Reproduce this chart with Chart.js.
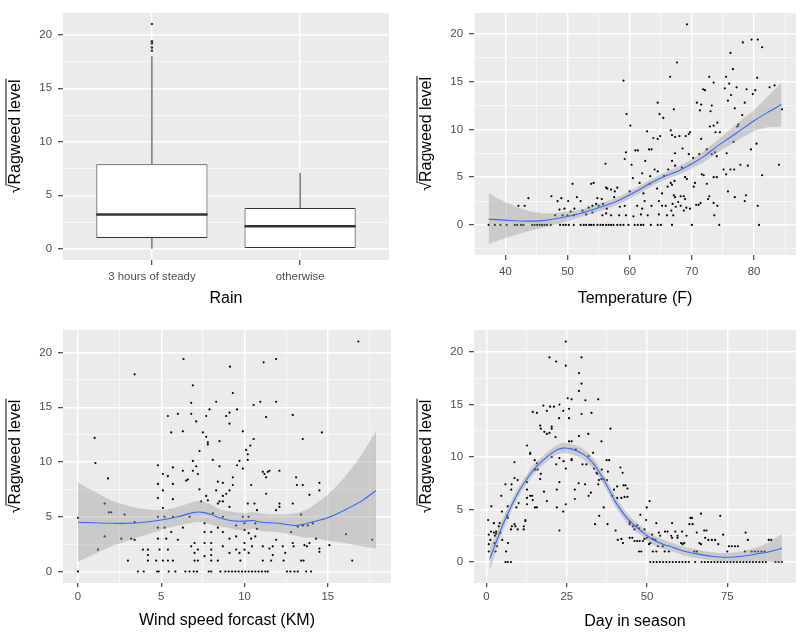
<!DOCTYPE html>
<html>
<head>
<meta charset="utf-8">
<script src="https://cdn.jsdelivr.net/npm/chart.js@4.4.1/dist/chart.umd.min.js"></script>
<style>
  body { margin: 0; background: #fff; }
  #wrap { position: relative; width: 800px; height: 634px; }
  canvas { position: absolute; }
</style>
</head>
<body>
<div id="wrap">
  <canvas id="rain" width="400" height="317" style="left:0;top:0;width:400px;height:317px"></canvas>
  <canvas id="temp" width="400" height="317" style="left:400px;top:0;width:400px;height:317px"></canvas>
  <canvas id="wind" width="400" height="317" style="left:0;top:317px;width:400px;height:317px"></canvas>
  <canvas id="day" width="400" height="317" style="left:400px;top:317px;width:400px;height:317px"></canvas>
</div>
<script>
"use strict";

// ---- panel 1: rain box plot (summary stats)
let rainGroups = ['3 hours of steady', 'otherwise'];
let boxLow = [0, 0];
let boxQ1 = [1.0, 0];
let boxMedian = [3.2, 2.1];
let boxQ3 = [7.9, 3.8];
let boxHigh = [18.0, 7.1];
let rainOutliers = [18.5, 18.8, 19.2, 19.4, 21.0];

// ---- tick values (major + minor gridlines)
let yTicks = [-2.5, 0, 2.5, 5, 7.5, 10, 12.5, 15, 17.5, 20];
let tempTicks = [35, 40, 45, 50, 55, 60, 65, 70, 75, 80, 85];
let windTicks = [0, 2.5, 5, 7.5, 10, 12.5, 15, 17.5];
let dayTicks = [0, 12.5, 25, 37.5, 50, 62.5, 75, 87.5];

// ---- panel 2: temperature
let tempPoints = [
  [69.2,21.0],[78.2,19.1],[79.6,19.4],[80.6,19.4],[81.3,18.6],[76.2,18.0],[67.6,17.0],[76.6,16.3],
  [59.0,15.1],[66.5,15.5],[72.8,15.5],[75.5,15.5],[80.5,15.4],
  [75.3,14.3],[71.8,14.2],[72.1,14.1],[77.2,14.4],[78.8,14.2],[80.2,14.1],[82.5,14.4],[83.3,14.6],[73.5,14.9],[76.0,14.8],
  [76.3,13.6],[79.8,13.7],[75.8,13.0],[73.2,12.5],[71.5,12.6],[70.8,12.8],[64.5,12.8],[67.1,12.1],[76.9,12.2],[78.5,12.8],[71.3,12.0],[73.0,11.9],
  [64.8,11.6],[59.5,11.6],[65.4,11.2],[78.1,11.5],[84.5,12.1],[74.1,10.7],[73.5,10.4],[72.9,10.3],[60.1,10.4],[77.5,10.5],[77.3,10.3],
  [66.6,9.9],[69.7,9.7],[69.5,9.5],[62.8,9.8],[66.8,9.4],[69.0,9.3],[67.3,9.2],[68.0,9.3],[64.9,9.3],[63.8,9.1],[64.5,9.0],[71.5,9.0],[73.8,9.7],[74.5,9.7],[80.4,8.5],[79.5,7.9],[72.4,7.9],[76.7,8.7],
  [60.9,7.8],[61.3,7.8],[63.1,7.9],[63.5,7.9],[62.5,6.7],[67.3,7.5],[68.5,8.0],[69.5,7.4],[59.4,7.6],[59.2,6.9],[71.2,7.4],[70.2,7.0],[73.2,7.4],[73.7,7.6],[74.0,7.2],[67.3,6.2],[66.8,6.7],[75.6,7.5],[77.8,6.3],
  [56.1,6.4],[60.3,6.3],[68.4,6.0],[66.2,5.8],[65.5,5.1],[64.5,5.6],[71.6,5.3],[71.9,5.2],[74.0,5.0],[73.5,5.0],[76.2,5.8],[76.8,5.8],[75.1,5.8],[75.5,5.3],[84.0,6.3],[79.0,6.2],[81.3,5.2],[64.0,5.8],[62.0,5.4],[60.5,4.9],[63.3,5.1],
  [68.9,5.0],[69.2,4.8],[67.2,4.6],[66.8,4.2],[66.1,4.0],[66.6,4.4],[63.2,4.3],[64.4,3.8],[70.3,4.0],[70.5,4.4],[72.4,4.3],[61.6,4.4],[53.8,4.3],[54.2,4.4],[50.8,4.3],
  [56.4,3.8],[57.0,3.7],[57.6,3.5],[56.2,3.9],[58.0,3.9],[62.2,3.3],[65.2,3.3],[67.1,3.1],[67.3,2.9],[68.2,3.0],[68.7,3.0],[68.9,2.7],[72.8,3.0],[72.6,2.7],[73.5,2.3],[71.4,2.3],[70.7,2.1],[76.9,2.9],[78.5,2.5],[78.7,3.1],[80.6,2.0],[75.8,3.5],
  [43.7,2.8],[47.4,3.0],[48.4,2.5],[49.0,2.8],[50.1,2.5],[51.5,2.9],[52.1,2.5],[54.8,2.8],[55.5,2.7],[57.5,2.9],[60.0,3.5],[61.2,2.0],[62.4,2.5],[63.5,2.0],[64.7,2.5],[65.8,2.0],[66.9,2.2],[67.8,2.4],[68.2,2.0],[69.7,1.7],[71.1,2.1],
  [42.1,2.0],[43.1,2.0],[48.7,1.6],[49.5,1.7],[50.5,1.4],[51.1,1.7],[52.4,1.5],[53.4,1.8],[54.0,2.0],[54.6,2.2],[55.0,2.0],[55.7,2.2],[56.3,1.7],[58.4,1.9],[59.2,2.0],[62.0,1.7],[64.7,1.1],[65.2,2.0],[66.7,1.5],[67.4,1.9],[68.7,1.5],[69.1,1.8],[73.6,1.0],[74.1,2.0],
  [48.0,1.0],[49.2,1.0],[50.0,1.0],[51.0,1.0],[53.0,1.1],[54.0,1.3],[55.6,1.0],[56.2,1.2],[57.0,1.0],[58.3,1.0],[59.4,1.0],[60.6,0.9],[61.8,1.1],[62.9,1.0],[66.0,1.0],[67.0,1.0]
];
let tempZeroX = [37.3,38.3,39.2,40.2,41.5,41.9,42.5,42.9,44.3,44.7,45.1,45.5,45.9,46.3,46.7,47.3,48.8,49.3,49.7,50.2,51.0,52.1,52.6,53.0,53.5,53.8,54.2,54.8,55.3,55.7,56.2,56.6,57.0,57.4,58.0,58.5,59.0,59.8,60.8,61.3,61.8,62.2,63.4,64.5,65.0,66.8,70.0,74.4,80.8];
let tempFitX = [37.3, 40, 43, 46, 49, 52, 55, 58, 61, 64, 66, 68, 70, 72, 74, 76, 78, 80, 82, 84.4];
let tempFit = [0.6, 0.5, 0.4, 0.45, 0.75, 1.2, 1.8, 2.5, 3.5, 4.6, 5.2, 5.7, 6.4, 7.2, 8.2, 9.1, 10.0, 10.9, 11.7, 12.6];
let tempUpper = [3.3, 2.4, 1.6, 1.2, 1.3, 1.6, 2.2, 2.9, 3.9, 5.0, 5.6, 6.2, 6.9, 7.8, 8.8, 9.9, 11.0, 12.0, 13.3, 14.9];
let tempLower = [-2.0, -1.4, -0.8, -0.3, 0.2, 0.8, 1.4, 2.1, 3.1, 4.2, 4.8, 5.3, 5.9, 6.6, 7.5, 8.3, 9.1, 9.8, 10.2, 10.3];

// ---- panel 3: wind speed
let windPoints = [
  [16.84,21.0],[6.34,19.4],[9.13,18.7],[11.15,19.1],[11.9,19.4],[3.4,18.0],
  [0,4.9],[1.0,12.2],[1.05,9.9],[1.2,2.0],[1.6,3.2],[1.6,6.2],[1.8,8.5],[1.85,5.4],[2.0,5.4],
  [2.6,3.0],[2.8,5.2],[3.0,1.0],[3.2,3.0],[3.4,2.9],[3.4,4.5],
  [3.9,2.0],[4.2,2.0],[4.2,1.5],[4.2,1.0],[4.7,1.0],
  [4.8,9.7],[4.8,8.0],[4.8,6.7],[4.8,5.0],[4.8,4.0],[4.8,3.0],[4.9,2.0],
  [5.1,8.9],[5.1,7.4],[5.1,5.8],[5.1,1.0],[5.2,5.0],[5.2,4.0],[5.3,3.0],
  [5.4,14.2],[5.4,8.7],[5.4,2.0],[5.4,1.0],[5.6,12.7],[5.6,3.6],
  [5.7,9.5],[5.7,8.0],[5.7,6.6],[5.7,5.0],[5.7,1.0],
  [6.0,14.4],[6.0,2.9],[6.3,12.8],[6.3,9.2],[6.3,4.0],[6.5,8.3],
  [6.6,8.4],[6.7,5.0],[6.8,15.4],[6.8,14.4],[6.8,2.3],[6.9,17.0],[6.9,10.1],[6.9,9.2],[7.0,2.6],[7.0,1.7],[7.0,1.0],
  [7.1,13.7],[7.1,9.6],[7.2,8.9],[7.2,2.0],[7.2,1.0],
  [7.3,11.0],[7.3,7.5],[7.4,6.4],[7.5,12.7],[7.6,4.4],[7.6,3.6],[7.6,2.6],[7.6,1.4],
  [7.7,14.2],[7.7,12.3],[7.8,11.8],[7.8,11.6],[7.9,14.8],[7.7,6.9],[7.8,6.5],
  [8.0,3.6],[8.0,2.6],[8.0,2.0],[8.0,1.5],[8.0,1.0],[8.1,10.2],[8.1,5.3],
  [8.3,15.5],[8.3,7.4],[8.4,8.2],[8.4,6.2],[8.4,4.0],[8.4,1.0],[8.5,11.9],[8.5,9.6],[8.5,6.4],
  [8.7,8.1],[8.7,6.9],[8.7,6.4],[8.7,5.0],[8.7,3.6],[8.7,2.3],[8.9,14.2],[8.9,7.1],
  [9.1,14.5],[9.1,13.5],[9.1,7.4],[9.1,5.9],[9.1,3.0],[9.1,1.7],
  [9.3,16.3],[9.3,8.6],[9.3,7.9],[9.5,4.2],[9.5,3.2],[9.5,2.0],
  [9.55,14.8],[9.55,9.7],[9.7,10.1],[9.7,1.7],[9.75,1.0],
  [9.9,12.8],[9.9,9.4],[9.9,5.0],[10.0,4.4],[10.0,3.8],[10.0,2.6],[10.0,2.0],
  [10.1,11.1],[10.2,10.7],[10.2,10.2],[10.2,6.2],[10.25,5.0],[10.25,3.5],[10.25,1.7],
  [10.35,11.5],[10.4,7.9],[10.4,3.0],[10.45,2.3],
  [10.55,15.2],[10.55,12.1],[10.6,6.2],[10.65,4.4],[10.65,3.2],[10.75,5.6],[10.75,3.9],
  [10.95,15.5],[11.1,2.3],[11.1,1.0],
  [11.1,9.1],[11.2,8.9],[11.3,8.6],[11.3,7.1],[11.3,14.1],[11.4,9.1],[11.5,2.1],[11.5,9.2],[11.6,1.0],[11.7,2.3],[11.7,1.5],
  [11.9,15.5],[11.9,5.6],[11.9,2.9],[12.1,9.2],[12.1,6.2],[12.1,5.9],
  [12.3,2.3],[12.35,1.0],[12.45,1.7],[12.8,3.6],[12.9,14.3],[12.9,6.2],[12.9,2.6],[12.95,2.3],
  [13.1,8.6],[13.15,7.9],[13.2,4.1],[13.4,1.0],[13.4,5.2],[13.5,12.1],[13.5,7.9],[13.5,4.2],[13.55,1.0],[13.6,2.4],[13.75,2.3],
  [13.8,4.2],[13.9,7.0],[13.9,2.6],[14.1,4.4],[14.3,3.0],[14.5,8.1],[14.5,7.4],[14.5,2.1],[14.5,1.8],[14.65,12.7],[15.1,2.4],[16.1,3.4],[16.47,1.0],[17.67,2.9]
];
let windZeroX = [0,3.6,3.95,4.75,4.85,5.45,5.85,6.45,6.7,6.95,7.15,7.85,8.0,8.55,8.85,9.05,9.25,9.45,9.65,9.85,10.05,10.25,10.45,10.65,10.85,11.05,11.25,11.4,12.55,12.75,13.0,13.2,13.7,14.0];
let windFitX = [0, 1, 2, 3, 4, 5, 6, 7, 7.5, 8, 8.5, 9, 9.5, 10, 10.5, 11, 12, 13, 13.5, 14, 15, 16, 17, 17.9];
let windFit = [4.5, 4.45, 4.4, 4.4, 4.5, 4.7, 5.0, 5.4, 5.4, 5.2, 4.9, 4.7, 4.6, 4.6, 4.65, 4.5, 4.4, 4.2, 4.3, 4.5, 4.9, 5.6, 6.4, 7.4];
let windUpper = [8.1, 7.3, 6.5, 6.0, 5.7, 5.6, 5.9, 6.4, 6.4, 6.1, 5.7, 5.5, 5.4, 5.3, 5.4, 5.3, 5.2, 5.3, 5.5, 5.9, 7.0, 8.6, 10.6, 12.8];
let windLower = [0.9, 1.6, 2.3, 2.8, 3.3, 3.8, 4.2, 4.5, 4.5, 4.3, 4.1, 4.0, 3.8, 3.8, 3.9, 3.7, 3.6, 3.3, 3.1, 3.1, 2.8, 2.6, 2.3, 2.1];

// ---- panel 4: day in season
let dayPoints = [
  [24.7,21.0],[19.6,19.5],[21.7,19.1],[29.6,19.5],[24.7,18.7],[28.8,18.0],[29.6,17.0],[28.8,16.3],
  [22.7,15.0],[25.3,15.6],[26.5,15.5],[30.8,15.4],[34.8,15.5],
  [14.4,14.3],[15.7,14.2],[17.7,14.9],[18.8,14.4],[19.8,14.8],[21.0,14.8],[23.9,14.4],[25.7,14.6],[29.6,14.1],[32.7,14.2],
  [25.7,13.7],[22.6,13.7],[16.7,13.0],[16.9,12.7],[20.3,12.9],[20.3,12.7],[19.6,12.3],[18.0,12.4],[18.8,12.2],[21.5,11.9],[28.8,12.0],[31.7,12.2],[38.6,12.7],
  [25.7,11.5],[26.5,11.5],[35.8,11.5],[12.6,11.1],
  [26.5,9.8],[26.5,9.7],[27.8,10.7],[22.7,9.9],[20.3,10.0],[21.7,9.3],[24.0,9.6],[24.7,8.9],[29.9,9.3],[31.1,9.3],[31.8,10.1],[33.2,10.4],
  [13.6,10.4],[13.6,10.3],[8.7,9.5],[15.0,9.7],[15.1,8.8],[15.7,9.4],[15.9,8.8],[16.9,8.4],[16.7,7.9],[8.7,8.0],[9.7,7.8],[7.8,7.4],[7.7,6.9],[5.9,7.4],[4.6,6.3],
  [37.4,9.7],[38.2,9.7],[35.9,8.8],[33.5,8.9],[34.3,8.5],[34.5,8.4],[35.0,7.8],[35.8,7.9],[36.5,7.9],[37.5,7.8],[37.8,8.6],[41.7,9.0],[42.4,8.5],[42.7,7.3],[43.3,7.3],[43.9,7.0],[40.7,7.2],[39.7,6.9],[39.2,6.3],[40.7,6.1],[42.0,6.1],[43.0,6.2],[43.9,6.2],
  [17.9,6.7],[13.6,6.3],[12.6,6.1],[12.6,7.6],[14.2,6.3],[21.9,6.9],[22.7,7.6],[28.7,7.5],[30.7,7.4],[34.8,7.4],[27.5,6.9],[27.5,6.0],[31.8,6.3],[32.5,6.6],
  [18.8,5.8],[21.9,5.2],[23.9,4.8],[24.7,5.5],[15.1,5.2],[14.4,5.9],[12.6,5.5],[15.7,5.2],[12.6,6.9],[10.0,5.6],[9.3,5.2],[6.6,5.3],[4.8,4.8],
  [6.4,4.4],[6.6,4.2],[12.1,4.0],[12.1,3.9],[8.7,3.6],[9.0,3.4],[11.6,3.4],[11.6,3.1],[9.7,3.1],[7.9,3.4],[7.6,3.1],[35.1,4.4],[33.8,3.6],[36.5,5.2],[22.7,3.0],[37.7,3.6],
  [4.1,3.7],[3.8,3.4],[2.3,3.7],[1.5,5.3],[0.5,4.0],[3.0,2.9],[3.0,2.7],[2.3,2.8],[2.6,2.5],[0.7,2.6],[1.4,2.9],[1.2,2.1],[2.5,1.8],[0.7,1.7],[3.3,1.5],[0.7,1.0],[2.8,1.0],[6.7,1.8],[6.1,1.0],[4.9,2.1],[4.3,2.8],
  [40.2,3.0],[40.9,2.1],[42.0,2.2],[42.5,1.8],[44.6,3.8],[44.6,3.6],[45.6,3.4],[46.1,3.1],[46.9,3.5],[47.5,3.2],[47.9,4.5],[49.2,3.1],[49.7,4.0],[49.9,5.2],[50.8,5.8],
  [44.6,2.3],[45.4,2.3],[46.1,2.0],[46.9,2.0],[47.5,1.0],[48.2,1.0],[47.7,2.0],[48.7,2.0],[49.2,2.2],[49.9,2.3],[50.6,1.7],[51.0,1.8],
  [51.6,2.6],[51.8,2.2],[52.6,2.1],[51.8,1.0],[52.9,1.0],[53.4,1.5],[52.9,3.7],[53.7,2.8],[54.1,2.5],[54.9,1.5],[55.5,1.0],[56.8,1.0],
  [55.6,2.9],[56.4,2.9],[57.8,3.7],[57.5,2.5],[57.8,2.3],[58.8,2.9],[59.5,2.5],[59.5,2.3],[60.9,2.9],[60.6,1.8],[61.1,1.7],[61.6,1.8],[62.3,2.5],[63.2,3.6],[63.5,4.2],[64.0,4.2],[64.2,3.6],[64.7,1.0],[65.5,1.0],[65.5,2.8],[66.8,4.6],[66.3,1.8],[66.8,1.7],
  [67.8,3.0],[68.5,3.0],[68.1,2.3],[69.1,2.1],[70.2,2.1],[71.2,2.1],[72.2,1.7],[72.8,4.4],[73.7,2.6],[75.0,1.0],[75.5,1.5],[76.4,1.5],[77.4,1.5],[78.3,1.5],[80.7,2.8],[81.4,2.1],[80.5,1.0],[82.6,1.0],[83.6,1.0],[84.6,1.0],[85.6,1.0],[86.6,1.0],[87.9,2.1],[88.7,2.1]
];
let dayZeroX = [5.9,6.6,7.6,51,52,53,54,55,56,57,58,59,60,61,62,63,65,67,68,69,70,71,72,73,74,75,76,77,78,79,80,81,82,83,84,85,86,87,90,91,92];
let dayFitX = [1, 3, 5, 8, 10, 13, 15, 18, 20, 22, 24, 26, 28, 30, 32, 34, 36, 38, 40, 42, 44, 46, 48, 50, 52, 55, 58, 62, 66, 70, 74, 78, 82, 86, 89, 92];
let dayFit = [0.3, 1.9, 3.5, 5.5, 6.7, 8.1, 8.9, 9.8, 10.3, 10.7, 10.85, 10.8, 10.6, 10.3, 9.8, 9.1, 8.1, 7.0, 5.8, 4.9, 4.1, 3.5, 3.0, 2.5, 2.1, 1.7, 1.4, 1.0, 0.75, 0.55, 0.45, 0.5, 0.65, 0.85, 1.05, 1.3];
let dayUpper = [1.4, 2.7, 4.1, 6.0, 7.15, 8.55, 9.35, 10.25, 10.75, 11.15, 11.35, 11.3, 11.1, 10.8, 10.3, 9.6, 8.6, 7.5, 6.3, 5.4, 4.55, 3.95, 3.45, 2.95, 2.55, 2.15, 1.8, 1.4, 1.15, 0.95, 0.85, 0.95, 1.2, 1.6, 2.1, 2.7];
let dayLower = [-0.8, 1.1, 2.9, 5.0, 6.25, 7.65, 8.45, 9.35, 9.85, 10.25, 10.35, 10.3, 10.1, 9.8, 9.3, 8.6, 7.6, 6.5, 5.3, 4.4, 3.65, 3.05, 2.55, 2.05, 1.65, 1.25, 1.0, 0.6, 0.35, 0.15, 0.05, 0.05, 0.1, 0.1, 0.0, -0.1];

// ---- styling
let panelBg = '#EBEBEB';
let inkColor = '#333333';
let fitColor = '#3366FF';
let bandColor = 'rgba(153,153,153,0.4)';
let boxWidth = 0.75;

Chart.defaults.font.family = '"Liberation Sans", Arial, sans-serif';
Chart.defaults.animation = false;
Chart.defaults.plugins.legend.display = false;
Chart.defaults.plugins.tooltip.enabled = false;

function isMajor(v, step) {
  let r = v / step;
  return Math.abs(r - Math.round(r)) < 1e-6;
}

function asXY(list) {
  return list.map(p => ({ x: p[0], y: p[1] }));
}

function zip(xs, ys) {
  return xs.map((x, i) => ({ x: x, y: ys[i] }));
}

// gray panel + axis titles (incl. the square root on the y title)
let panelDeco = {
  id: 'panelDeco',
  beforeDraw(chart) {
    let a = chart.chartArea;
    let c = chart.ctx;
    c.save();
    c.fillStyle = panelBg;
    c.fillRect(a.left, a.top, a.right - a.left, a.bottom - a.top);
    c.restore();
  },
  afterDraw(chart, args, opts) {
    let a = chart.chartArea;
    let c = chart.ctx;
    c.save();
    c.fillStyle = '#000';
    c.font = '16px "Liberation Sans", Arial, sans-serif';
    c.textAlign = 'center';
    c.textBaseline = 'alphabetic';
    c.fillText(opts.xTitle, (a.left + a.right) / 2, opts.xTitleY);

    c.translate(opts.yTitleX, (a.top + a.bottom) / 2);
    c.rotate(-Math.PI / 2);
    let rad = '\u221A';
    let txt = 'Ragweed level';
    let wr = c.measureText(rad).width;
    let wt = c.measureText(txt).width;
    let x0 = -(wr + wt) / 2;
    c.textAlign = 'left';
    c.fillText(rad, x0, 0);
    c.fillText(txt, x0 + wr, 0);
    c.strokeStyle = '#000';
    c.lineWidth = 1;
    c.beginPath();
    c.moveTo(x0 + wr - 1, -13.5);
    c.lineTo(x0 + wr + wt + 1, -13.5);
    c.stroke();
    c.restore();
  }
};

function makeAxis(ticks, step, min, max, tickLen, pad, fit, labelFn) {
  return {
    type: 'linear',
    min: min,
    max: max,
    offset: false,
    afterBuildTicks: axis => {
      axis.ticks = ticks.filter(v => v >= min && v <= max).map(v => ({ value: v }));
    },
    afterFit: fit,
    ticks: {
      autoSkip: false,
      maxRotation: 0,
      padding: pad,
      color: '#4D4D4D',
      font: { size: 11.4 },
      callback: labelFn || (v => isMajor(v, step) ? v : '')
    },
    grid: {
      offset: false,
      color: '#FFFFFF',
      lineWidth: ctx => (ctx.tick && isMajor(ctx.tick.value, step)) ? 1.4 : 0.6,
      drawTicks: true,
      tickLength: tickLen,
      tickWidth: 1.1,
      tickColor: ctx => (ctx.tick && isMajor(ctx.tick.value, step)) ? inkColor : 'rgba(0,0,0,0)'
    },
    border: { display: false }
  };
}

function frame(box) {
  return {
    padding: { top: box.top, right: 400 - box.right, left: 0, bottom: 0 },
    yFit: s => { s.width = box.left; },
    xFit: s => { s.height = 317 - box.bottom; }
  };
}

// ---- panel 1
function drawRain() {
  let f = frame({ left: 63, right: 389, top: 3, bottom: 260 });
  let datasets = [];

  rainGroups.forEach((g, i) => {
    datasets.push({
      type: 'line',
      data: [{ x: i + 1 - boxWidth / 2, y: boxMedian[i] }, { x: i + 1 + boxWidth / 2, y: boxMedian[i] }],
      borderColor: inkColor,
      borderWidth: 2.4,
      pointRadius: 0
    });
  });

  datasets.push({
    type: 'bar',
    data: rainGroups.map((g, i) => ({ x: i + 1, y: [boxQ1[i], boxQ3[i]] })),
    backgroundColor: '#FFFFFF',
    borderColor: inkColor,
    borderWidth: 1,
    borderSkipped: false,
    barPercentage: boxWidth,
    categoryPercentage: 1,
    grouped: false
  });

  rainGroups.forEach((g, i) => {
    datasets.push({
      type: 'line',
      data: [{ x: i + 1, y: boxQ3[i] }, { x: i + 1, y: boxHigh[i] }],
      borderColor: inkColor, borderWidth: 1, pointRadius: 0
    });
    if (boxQ1[i] > boxLow[i]) {
      datasets.push({
        type: 'line',
        data: [{ x: i + 1, y: boxLow[i] }, { x: i + 1, y: boxQ1[i] }],
        borderColor: inkColor, borderWidth: 1, pointRadius: 0
      });
    }
  });

  datasets.push({
    type: 'line',
    data: rainOutliers.map(v => ({ x: 1, y: v })),
    showLine: false,
    pointRadius: 1.3,
    pointBorderWidth: 0,
    pointBackgroundColor: inkColor
  });

  new Chart(document.getElementById('rain'), {
    type: 'bar',
    data: { datasets: datasets },
    options: {
      responsive: false,
      devicePixelRatio: 1,
      layout: { padding: f.padding },
      scales: {
        x: makeAxis([1, 2], 1, 0.4, 2.6, 5, 5, f.xFit, v => rainGroups[Math.round(v) - 1]),
        y: makeAxis(yTicks, 5, -1.05, 22.05, 5, 6, f.yFit)
      },
      plugins: { panelDeco: { xTitle: 'Rain', xTitleY: 303, yTitleX: 19.5 } }
    },
    plugins: [panelDeco]
  });
}

// ---- panels 2-4: points + loess fit with band
function drawSmooth(id, cfg) {
  let f = frame(cfg.box);
  let pts = asXY(cfg.points).concat(cfg.zeros.map(x => ({ x: x, y: 0 })));
  new Chart(document.getElementById(id), {
    type: 'line',
    data: {
      datasets: [
        { data: zip(cfg.fitX, cfg.fit), borderColor: fitColor, borderWidth: 1.1, pointRadius: 0, tension: 0.3 },
        { data: zip(cfg.fitX, cfg.upper), borderColor: 'rgba(0,0,0,0)', borderWidth: 0, pointRadius: 0, tension: 0.3,
          fill: '+1', backgroundColor: bandColor },
        { data: zip(cfg.fitX, cfg.lower), borderColor: 'rgba(0,0,0,0)', borderWidth: 0, pointRadius: 0, tension: 0.3 },
        { data: pts, showLine: false, pointRadius: 1.1, pointBorderWidth: 0, pointBackgroundColor: '#000' }
      ]
    },
    options: {
      responsive: false,
      devicePixelRatio: 1,
      layout: { padding: f.padding },
      scales: {
        x: makeAxis(cfg.xTicks, cfg.xStep, cfg.xMin, cfg.xMax, cfg.tickLen, cfg.pad, f.xFit),
        y: makeAxis(yTicks, 5, cfg.yMin, cfg.yMax, 5, 6, f.yFit)
      },
      plugins: { panelDeco: { xTitle: cfg.title, xTitleY: cfg.titleY, yTitleX: cfg.yTitleX } }
    },
    plugins: [panelDeco]
  });
}

drawRain();

drawSmooth('temp', {
  box: { left: 74, right: 397, top: 2, bottom: 255 },
  points: tempPoints, zeros: tempZeroX,
  fitX: tempFitX, fit: tempFit, upper: tempUpper, lower: tempLower,
  xTicks: tempTicks, xStep: 10, xMin: 34.95, xMax: 86.75,
  yMin: -3.15, yMax: 22.2, tickLen: 5, pad: 5,
  title: 'Temperature (F)', titleY: 303, yTitleX: 30.5
});

drawSmooth('wind', {
  box: { left: 63, right: 391, top: 13, bottom: 266 },
  points: windPoints, zeros: windZeroX,
  fitX: windFitX, fit: windFit, upper: windUpper, lower: windLower,
  xTicks: windTicks, xStep: 5, xMin: -0.9, xMax: 18.8,
  yMin: -1.05, yMax: 22.05, tickLen: 4, pad: 3,
  title: 'Wind speed forcast (KM)', titleY: 308, yTitleX: 19.5
});

drawSmooth('day', {
  box: { left: 74, right: 396, top: 13, bottom: 266 },
  points: dayPoints, zeros: dayZeroX,
  fitX: dayFitX, fit: dayFit, upper: dayUpper, lower: dayLower,
  xTicks: dayTicks, xStep: 25, xMin: -3.9, xMax: 96.4,
  yMin: -2.0, yMax: 22.1, tickLen: 4, pad: 3,
  title: 'Day in season', titleY: 309, yTitleX: 30.5
});
</script>
</body>
</html>
